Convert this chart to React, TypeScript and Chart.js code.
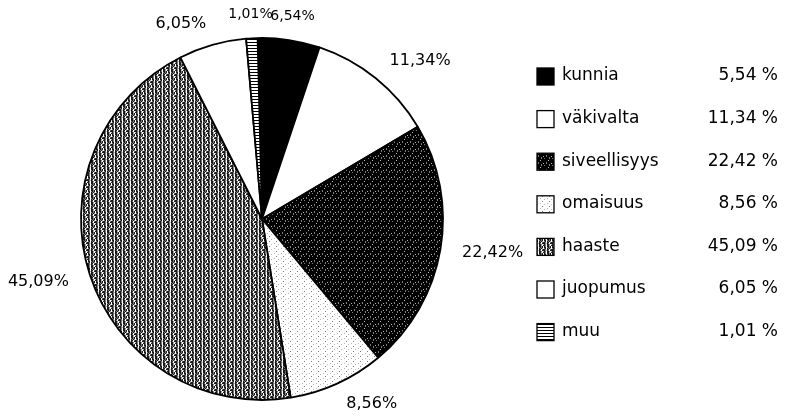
import React, { useEffect, useRef } from "react";
import { Chart, registerables } from "chart.js";

Chart.register(...registerables);

const categories = ["kunnia", "väkivalta", "siveellisyys", "omaisuus", "haaste", "juopumus", "muu"];
const values = [5.54, 11.34, 22.42, 8.56, 45.09, 6.05, 1.01];
const legendValueLabels = ["5,54 %", "11,34 %", "22,42 %", "8,56 %", "45,09 %", "6,05 %", "1,01 %"];
const sliceLabels = ["6,54%", "11,34%", "22,42%", "8,56%", "45,09%", "6,05%", "1,01%"];

const FONT = '"DejaVu Sans", sans-serif';

function makePattern(rows: string[], palette: Record<string, string>) {
  const c = document.createElement("canvas");
  c.width = rows[0].length;
  c.height = rows.length;
  const ctx = c.getContext("2d")!;
  rows.forEach((r, y) =>
    r.split("").forEach((ch, x) => {
      ctx.fillStyle = palette[ch];
      ctx.fillRect(x, y, 1, 1);
    })
  );
  return ctx.createPattern(c, "repeat")!;
}

const palette = { k: "#1a1a1a", g: "#7a7a7a", l: "#b5b5b5", w: "#ffffff", d: "#000000" };

function buildFills() {
  const siveellisyys = makePattern(
    ["dddddddd", "ddgddddd", "ddgddddl", "dddddgdd", "gddddgdd", "dddddddd", "ddddlddd"],
    palette
  );
  const haaste = makePattern(
    ["kgwkklwk", "kgwkkgkw", "kkwgkgkw", "gkwkgklw", "kgwkkwgk", "kglkgwkk", "kgwkkgwl"],
    palette
  );
  const omaisuus = makePattern(
    ["wwwwwww", "wwwgwww", "wwwwwww", "wlwwwww", "wwwwwlw"],
    palette
  );
  const muu = makePattern(["d", "w", "w"], palette);
  return ["#000000", "#ffffff", siveellisyys, omaisuus, haaste, "#ffffff", muu];
}

const labelPlugin = {
  id: "sliceLabels",
  afterDatasetsDraw(chart: any) {
    const ctx = chart.ctx;
    const meta = chart.getDatasetMeta(0);
    ctx.save();
    ctx.fillStyle = "#000";
    ctx.textBaseline = "middle";
    meta.data.forEach((arc: any, i: number) => {
      const { x, y, startAngle, endAngle, outerRadius } = arc.getProps(
        ["x", "y", "startAngle", "endAngle", "outerRadius"],
        true
      );
      const mid = (startAngle + endAngle) / 2;
      const c = Math.cos(mid);
      const top = Math.abs(c) < 0.2;
      const r = outerRadius + (top ? 24 : 22);
      const lx = x + r * Math.cos(mid);
      const ly = y + r * Math.sin(mid);
      ctx.font = top ? `14px ${FONT}` : `16px ${FONT}`;
      ctx.textAlign = top ? "center" : c > 0 ? "left" : "right";
      ctx.fillText(sliceLabels[i], lx, ly);
    });
    ctx.restore();
  },
};

const legendPlugin = {
  id: "customLegend",
  afterDraw(chart: any) {
    const ctx = chart.ctx;
    const fills = chart.data.datasets[0].backgroundColor;
    ctx.save();
    chart.data.labels.forEach((lab: string, i: number) => {
      const cy = 76 + i * 42.6;
      ctx.fillStyle = fills[i];
      ctx.fillRect(537, cy - 8, 17, 17);
      ctx.strokeStyle = "#000";
      ctx.lineWidth = 1.3;
      ctx.strokeRect(537, cy - 8, 17, 17);
      ctx.fillStyle = "#000";
      ctx.font = `17px ${FONT}`;
      ctx.textBaseline = "middle";
      ctx.textAlign = "left";
      ctx.fillText(lab, 562, cy);
      ctx.textAlign = "right";
      ctx.fillText(legendValueLabels[i], 778, cy);
    });
    ctx.restore();
  },
};

export default function App() {
  const ref = useRef<HTMLCanvasElement | null>(null);
  useEffect(() => {
    if (!ref.current) return;
    const chart = new Chart(ref.current, {
      type: "pie",
      data: {
        labels: categories,
        datasets: [
          {
            data: values,
            backgroundColor: buildFills() as any,
            borderColor: "#000",
            borderWidth: 1.8,
          },
        ],
      },
      options: {
        animation: false,
        responsive: false,
        rotation: -1.4,
        radius: 181,
        layout: { padding: { left: 80, right: 344, top: 36, bottom: 15 } },
        plugins: {
          legend: { display: false },
          tooltip: { enabled: false },
        },
      } as any,
      plugins: [labelPlugin, legendPlugin],
    });
    return () => chart.destroy();
  }, []);
  return (
    <div style={{ position: "absolute", left: 0, top: 0, width: 788, height: 417, background: "#fff" }}>
      <canvas ref={ref} width={788} height={417} style={{ width: 788, height: 417 }} />
    </div>
  );
}
